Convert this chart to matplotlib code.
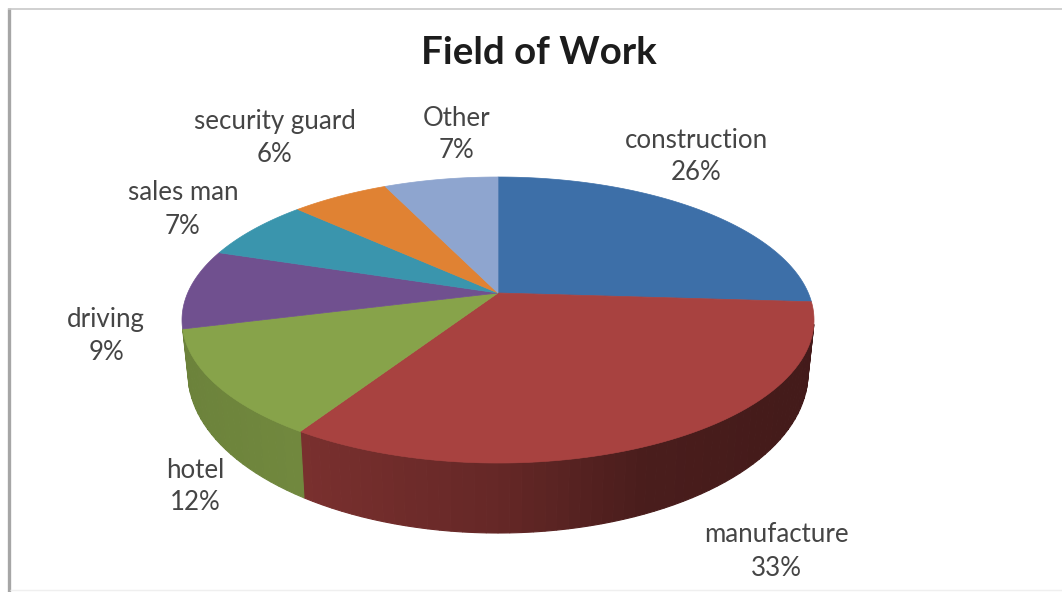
import numpy as np
import matplotlib
matplotlib.use('Agg')
import matplotlib.pyplot as plt
from matplotlib.patches import Polygon
from matplotlib.colors import to_rgb

# Field of work shares, clockwise from twelve o'clock
fields = ['construction', 'manufacture', 'hotel', 'driving', 'sales man', 'security guard', 'Other']
shares = [26, 33, 12, 9, 7, 6, 7]
colors = ['#3d6fa8', '#a84240', '#87a34a', '#70508f', '#3a95ad', '#e08233', '#8ea5cf']

# Label centres in pixels (name line, then percent line)
label_x = [696, 776, 195, 106, 183, 275, 457]
label_y = [140, 535, 470, 320, 193, 122, 119]
line_gap = [33, 33, 33, 33, 33, 32, 32]

# Geometry of the tilted disc
apex_x, apex_y = 498, 293
top_cy, top_rx, top_ry = 320, 316, 143
bot_cy, bot_rx, bot_ry = 373, 310, 160
persp = 54 / 286

plt.rcParams['font.family'] = ['Lato', 'DejaVu Sans']
fig = plt.figure(figsize=(10.62, 5.92), dpi=100)
ax = fig.add_axes([0, 0, 1, 1])
ax.set_xlim(0, 1062)
ax.set_ylim(592, 0)
ax.axis('off')


def rim(theta):
    # clockwise angle from the top of the disc -> pixel on the upper rim
    u, v = np.sin(theta), np.cos(theta)
    w = 1 + persp * v
    x = apex_x + top_rx * np.sqrt(1 - persp ** 2) * u / w
    y = apex_y - 116 * (1 + persp) * v / w
    return x, y


def drop(x, y):
    # same rim position on the lower edge of the side wall
    phi = np.arctan2((y - top_cy) / top_ry, (x - apex_x) / top_rx)
    return apex_x + bot_rx * np.cos(phi), bot_cy + bot_ry * np.sin(phi), phi


edges = np.cumsum([0] + shares) / sum(shares) * 2 * np.pi

# Side wall first, so the top face covers it
for i, col in enumerate(colors):
    base = np.array(to_rgb(col))
    n = max(int(shares[i] * 2), 2)
    ts = np.linspace(edges[i], edges[i + 1], n + 1)
    for t0, t1 in zip(ts[:-1], ts[1:]):
        fine = np.linspace(t0, t1, 8)
        xs, ys = rim(fine)
        bxs, bys, phis = drop(xs, ys)
        if phis.min() < 0 or i == 3:
            continue
        mid = xs.mean()
        if i == 1:
            shade = np.interp(mid, [305, 500, 640, 810], [0.72, 0.60, 0.44, 0.40])
        else:
            shade = np.interp(mid, [184, 305], [0.80, 0.84])
        face = base * shade
        pts = np.column_stack([np.r_[xs, bxs[::-1]], np.r_[ys, bys[::-1]]])
        ax.add_patch(Polygon(pts, closed=True, facecolor=face, edgecolor=face, linewidth=0.8))

# Top face of each slice
for i, col in enumerate(colors):
    ts = np.linspace(edges[i], edges[i + 1], 120)
    xs, ys = rim(ts)
    pts = np.column_stack([np.r_[apex_x, xs], np.r_[apex_y, ys]])
    ax.add_patch(Polygon(pts, closed=True, facecolor=col, edgecolor=col, linewidth=0.5))

# Labels
for name, share, x, y, gap in zip(fields, shares, label_x, label_y, line_gap):
    ax.text(x, y, name, ha='center', va='center', fontsize=18.6, color='#454545')
    ax.text(x, y + gap, f'{share}%', ha='center', va='center', fontsize=18.6, color='#454545')

ax.text(539, 53, 'Field of Work', ha='center', va='center', fontsize=27.7,
        fontweight='bold', color='#1c1c1c')

# Chart frame
ax.plot([8.5, 8.5], [8, 592], color='#a6a6a6', lw=2.4, solid_capstyle='butt')
ax.plot([8, 1062], [8.5, 8.5], color='#c8c8c8', lw=1.2, solid_capstyle='butt')
ax.plot([10, 1062], [590, 590], color='#efefef', lw=1.0, solid_capstyle='butt')

plt.savefig('out.png', dpi=100)
